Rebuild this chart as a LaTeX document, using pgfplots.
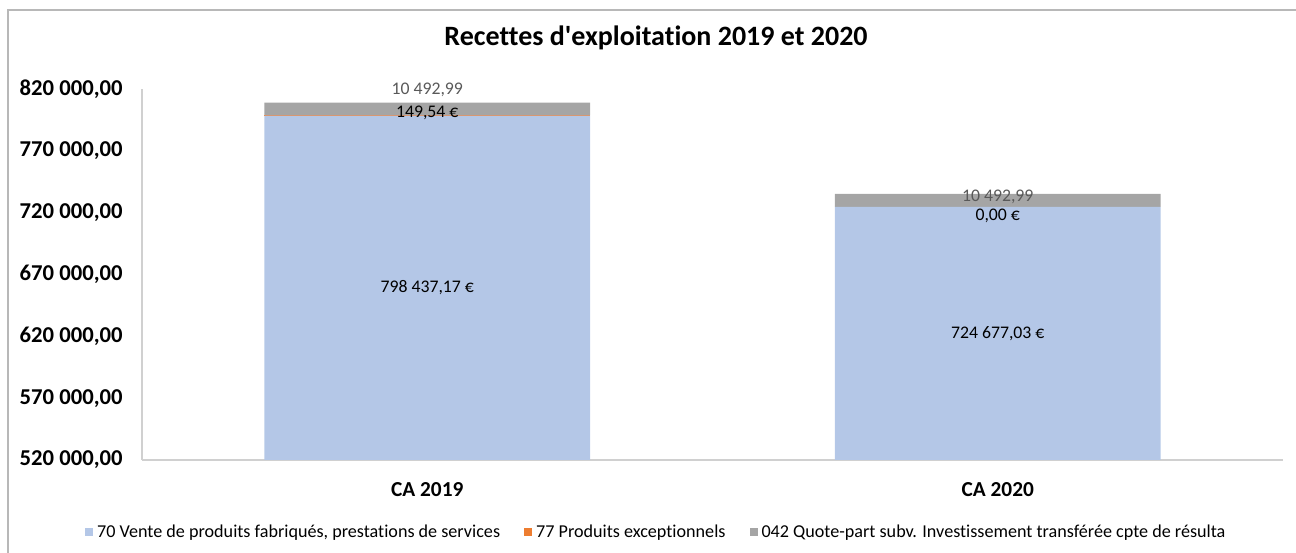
\documentclass[border=0pt]{standalone}
\usepackage{pgfplots}
\pgfplotsset{compat=1.18}
\usepackage{fontspec}
\setmainfont{Carlito}[Ligatures={TeXOff,NoCommon}]
\definecolor{cblue}{HTML}{B4C7E7}
\definecolor{corange}{HTML}{ED7D31}
\definecolor{cgray}{HTML}{A5A5A5}
\definecolor{lblgray}{HTML}{595959}
\definecolor{axgray}{HTML}{D0D0D0}
\begin{document}
\begin{tikzpicture}
\path[use as bounding box] (0pt,0pt) rectangle (972pt,414.75pt);
\draw[color=black!28, line width=1.4pt] (6pt,0pt) -- (6pt,407.25pt) -- (972pt,407.25pt);
\begin{axis}[
  at={(106.5pt,69.75pt)}, anchor=south west,
  scale only axis, width=855.75pt, height=278.25pt,
  ybar stacked, bar width=0.571,
  xmin=-0.5, xmax=1.5, ymin=520000, ymax=820000,
  axis x line*=bottom, axis y line*=left,
  axis line style={draw=axgray, line width=0.9pt, -},
  major tick length=0pt,
  scaled y ticks=false,
  xtick={0,1}, xticklabels={CA 2019, CA 2020},
  ytick={520000,570000,620000,670000,720000,770000,820000},
  yticklabels={{520 000,00},{570 000,00},{620 000,00},{670 000,00},{720 000,00},{770 000,00},{820 000,00}},
  xticklabel style={font=\bfseries\fontsize{16}{18}\selectfont, anchor=north, yshift=-13pt},
  yticklabel style={font=\bfseries\fontsize{17}{19}\selectfont, anchor=east, xshift=-11pt},
  title={Recettes d'exploitation 2019 et 2020},
  title style={at={(0.4505,1.116)}, anchor=center, font=\bfseries\fontsize{21}{24}\selectfont},
  legend columns=3,
  legend style={at={(0.451,-0.194)}, anchor=center, draw=none, fill=none,
    font=\fontsize{13.6}{15}\selectfont,
    /tikz/every odd column/.append style={column sep=1pt},
    /tikz/every even column/.append style={column sep=16pt}},
  legend image code/.code={\fill[#1] (0pt,-3pt) rectangle (6pt,3pt);},
  clip=true,
]
\addplot[fill=cblue, draw=none] coordinates {(0,798437.17) (1,724677.03)};
\addlegendentry{70 Vente de produits fabriqués, prestations de services}
\addplot[fill=corange, draw=none] coordinates {(0,149.54) (1,0)};
\addlegendentry{77 Produits exceptionnels}
\addplot[fill=cgray, draw=none] coordinates {(0,10492.99) (1,10492.99)};
\addlegendentry{042 Quote-part subv. Investissement transférée cpte de résulta}
\coordinate (a1) at (axis cs:0,659218);
\coordinate (a2) at (axis cs:1,622338);
\coordinate (b1) at (axis cs:0,800593);
\coordinate (b2) at (axis cs:1,717305);
\coordinate (c1) at (axis cs:0,819191);
\coordinate (c2) at (axis cs:1,732668);
\end{axis}
\begin{scope}[every node/.style={font=\fontsize{13.3}{15}\selectfont}]
\node at (a1) {798 437,17 €};
\node at (a2) {724 677,03 €};
\node at (b1) {149,54 €};
\node at (b2) {0,00 €};
\node[text=lblgray] at (c1) {10 492,99};
\node[text=lblgray] at (c2) {10 492,99};
\end{scope}
\end{tikzpicture}
\end{document}
